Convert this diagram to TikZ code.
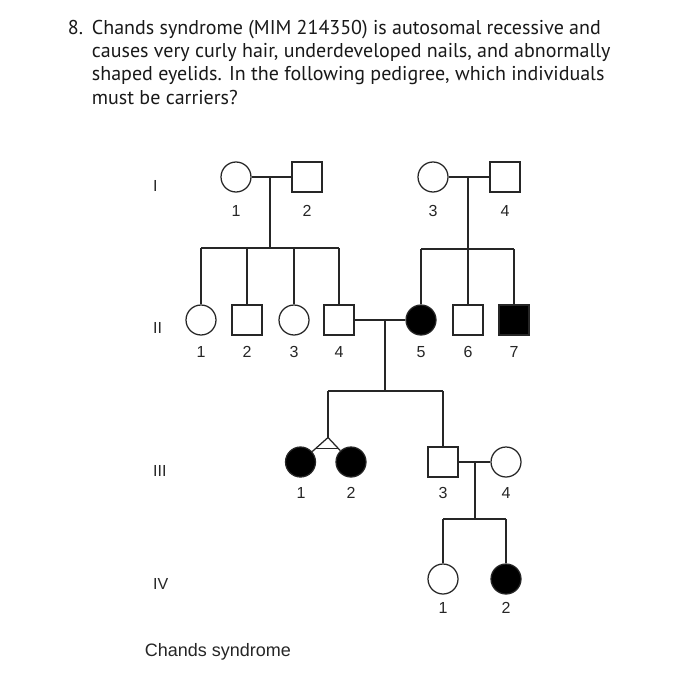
\documentclass[tikz,border=0pt]{standalone}
\usepackage{fontspec}
\setmainfont{PT Sans}
\newfontfamily\lab{Liberation Sans}
\usetikzlibrary{calc}
\begin{document}
\begin{tikzpicture}[x=1pt,y=-1pt,
  lw/.style={line width=1.25pt, draw=black!85},
  fem/.style={circle, lw, minimum size=30pt, inner sep=0pt},
  mal/.style={rectangle, lw, minimum size=30pt, inner sep=0pt},
  aff/.style={fill=black},
  num/.style={font=\lab\fontsize{16}{16}\selectfont, text=black!85, inner sep=0pt},
  gen/.style={num, anchor=west},
  ttl/.style={anchor=base west, font=\fontsize{20}{23}\selectfont, inner sep=0pt, text=black!90}]
\useasboundingbox (0,0) rectangle (679,685);
\fill[white] (0,0) rectangle (679,685);
% question text
\node[ttl] (q8) at (67.7,35) {8.};
\node[ttl] (t1) at (91.7,35) {Chands syndrome (MIM 214350) is autosomal recessive and};
\node[ttl] (t2) at (91.7,58) {causes very curly hair, underdeveloped nails, and abnormally};
\node[ttl] (t3) at (91.7,81) {shaped eyelids. In the following pedigree, which individuals};
\node[ttl] (t4) at (91.7,104) {must be carriers?};
% generation labels
\node[gen] (gI) at (153,186) {I};
\node[gen] (gII) at (153,328) {II};
\node[gen] (gIII) at (153,471) {III};
\node[gen] (gIV) at (153,584) {IV};
% individuals
\node[fem] (I1) at (236,177) {};
\node[mal] (I2) at (307,177) {};
\node[fem] (I3) at (433,177) {};
\node[mal] (I4) at (505,177) {};
\node[fem] (II1) at (201,320) {};
\node[mal] (II2) at (247,320) {};
\node[fem] (II3) at (294,320) {};
\node[mal] (II4) at (339,320) {};
\node[fem,aff] (II5) at (421,320) {};
\node[mal] (II6) at (468,320) {};
\node[mal,aff] (II7) at (514,320) {};
\node[fem,aff] (III1) at (300.5,462) {};
\node[fem,aff] (III2) at (351,462) {};
\node[mal] (III3) at (443,462) {};
\node[fem] (III4) at (506,462) {};
\node[fem] (IV1) at (443,579) {};
\node[fem,aff] (IV2) at (506,579) {};
% numbers
\node[num] (nI1) at (236,211) {1};
\node[num] (nI2) at (307,211) {2};
\node[num] (nI3) at (433,211) {3};
\node[num] (nI4) at (505,211) {4};
\node[num] (nII1) at (201,352) {1};
\node[num] (nII2) at (247,352) {2};
\node[num] (nII3) at (294,352) {3};
\node[num] (nII4) at (339,352) {4};
\node[num] (nII5) at (421,352) {5};
\node[num] (nII6) at (468,352) {6};
\node[num] (nII7) at (514,352) {7};
\node[num] (nIII1) at (301,493) {1};
\node[num] (nIII2) at (351,493) {2};
\node[num] (nIII3) at (443,493) {3};
\node[num] (nIII4) at (506,493) {4};
\node[num] (nIV1) at (443,608) {1};
\node[num] (nIV2) at (506,608) {2};
% family I-1 x I-2
\coordinate (m1) at (270,177);
\coordinate (s1) at (270,248);
\draw[lw] (I1) -- (I2);
\draw[lw] (m1) -- (s1);
\draw[lw] (II1.north |- s1) -- (II4.north |- s1);
\draw[lw] (II1.north |- s1) -- (II1.north);
\draw[lw] (II2.north |- s1) -- (II2.north);
\draw[lw] (II3.north |- s1) -- (II3.north);
\draw[lw] (II4.north |- s1) -- (II4.north);
% family I-3 x I-4
\coordinate (m2) at (468,177);
\coordinate (s2) at (468,249);
\draw[lw] (I3) -- (I4);
\draw[lw] (m2) -- (II6.north);
\draw[lw] (II5.north |- s2) -- (II7.north |- s2);
\draw[lw] (II5.north |- s2) -- (II5.north);
\draw[lw] (II7.north |- s2) -- (II7.north);
% family II-4 x II-5
\coordinate (m3) at (385,320);
\coordinate (s3) at (385,391);
\coordinate (tw) at (328,437.5);
\draw[lw] (II4) -- (II5);
\draw[lw] (m3) -- (s3);
\draw[lw] (tw |- s3) -- (III3.north |- s3);
\draw[lw] (tw |- s3) -- (tw);
\draw[lw] (III3.north |- s3) -- (III3.north);
\draw[lw] (tw) -- (III1);
\draw[lw] (tw) -- (III2);
\coordinate (cbL) at ($(tw)!0.45!(III1.center)$);
\coordinate (cbR) at ($(tw)!0.45!(III2.center)$);
\draw[lw] (cbL) -- (cbR);
% family III-3 x III-4
\coordinate (m4) at (475,462);
\coordinate (s4) at (475,519);
\draw[lw] (III3) -- (III4);
\draw[lw] (m4) -- (s4);
\draw[lw] (IV1.north |- s4) -- (IV2.north |- s4);
\draw[lw] (IV1.north |- s4) -- (IV1.north);
\draw[lw] (IV2.north |- s4) -- (IV2.north);
% caption
\node[font=\lab\fontsize{18}{18}\selectfont, text=black!85, inner sep=0pt] (cap) at (218,652) {Chands syndrome};
\end{tikzpicture}
\end{document}
